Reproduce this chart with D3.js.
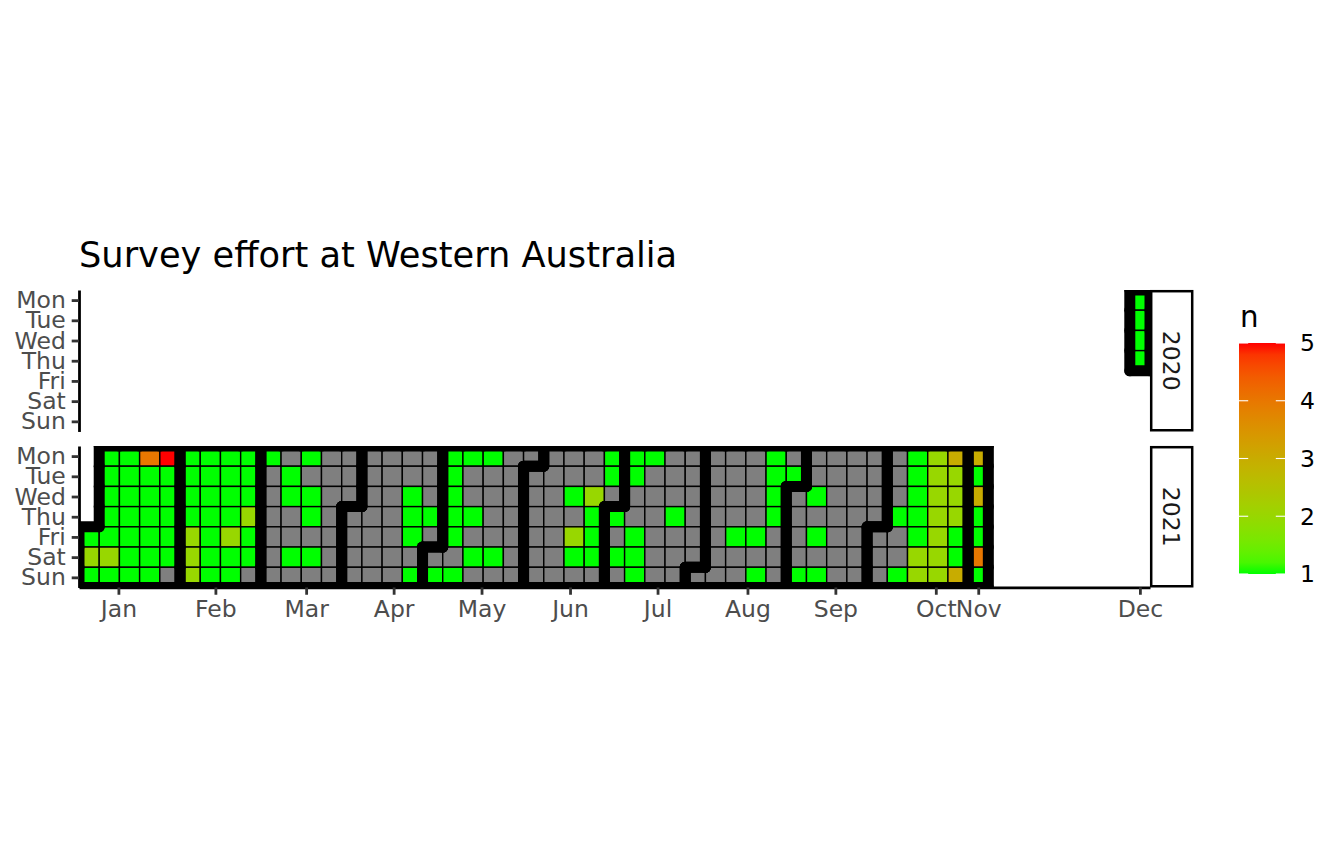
<!DOCTYPE html>
<html><head><meta charset="utf-8">
<script src="https://cdn.jsdelivr.net/npm/d3@7"></script>
<style>body{margin:0;background:#fff}svg text{font-family:"DejaVu Sans",sans-serif}</style>
</head><body><svg id="chart" width="1344" height="865"></svg>
<script>
const title = "Survey effort at Western Australia";
const dayLabels = ["Mon","Tue","Wed","Thu","Fri","Sat","Sun"];
const years = ["2020","2021"];
const N = null;
// daily survey counts (null = no survey) starting at each year's first date
const start2020 = "2020-12-28";
const n2020 = [1,1,1,1];
const start2021 = "2021-01-01";
const n2021 = [
  1,2,1,
  1,1,1,1,1,2,1,
  1,1,1,1,1,1,1,
  4,1,1,1,1,1,1,
  5,1,1,1,1,1,N,
  1,1,1,1,2,2,2,
  1,1,1,1,1,1,1,
  1,1,1,1,2,1,1,
  1,1,1,2,1,1,N,
  1,N,N,N,N,N,N,
  N,1,1,N,N,1,N,
  1,N,1,1,N,1,N,
  N,N,N,N,N,N,N,
  N,N,N,N,N,N,N,
  N,N,N,N,N,N,N,
  N,N,N,N,N,N,N,
  N,N,1,1,1,N,1,
  N,N,N,1,N,N,1,
  1,1,1,1,1,N,1,
  1,N,N,1,N,1,N,
  1,N,N,N,N,1,N,
  N,N,N,N,N,N,N,
  N,N,N,N,N,N,N,
  N,N,N,N,N,N,N,
  N,N,1,N,2,1,N,
  N,N,2,1,1,1,N,
  1,1,N,1,N,1,N,
  1,1,N,N,1,1,1,
  1,N,N,N,N,N,N,
  N,N,N,1,N,N,N,
  N,N,N,N,N,N,N,
  N,N,N,N,N,N,N,
  N,N,N,N,1,N,N,
  N,N,N,N,1,N,1,
  1,1,1,1,N,N,N,
  N,1,N,N,N,N,1,
  N,N,1,N,1,N,1,
  N,N,N,N,N,N,N,
  N,N,N,N,N,N,N,
  N,N,N,N,N,N,N,
  N,N,N,1,N,N,1,
  1,1,1,1,1,2,2,
  2,2,2,2,2,2,2,
  3,2,2,2,1,1,3,
  3,1,3,1,1,4,1
];
const monthLabels = ["Jan","Feb","Mar","Apr","May","Jun","Jul","Aug","Sep","Oct","Nov","Dec"];
const monthTicks = [1.45, 6.25, 10.74, 15.07, 19.42, 23.8, 28.13, 32.58, 36.93, 41.9, 44.0, 52.0];
const legendBreaks = [1,2,3,4,5];

const svg = d3.select("#chart");
const parse = d3.timeParse("%Y-%m-%d");
const fmtW = d3.timeFormat("%W");

function buildDays(startStr, vals, year) {
  const s = parse(startStr);
  return vals.map((v, i) => {
    const d = d3.timeDay.offset(s, i);
    return {year, date: d, value: v, week: +fmtW(d), dow: (d.getDay() + 6) % 7 + 1, month: d.getMonth()};
  });
}
const panels = [
  {year: "2020", days: buildDays(start2020, n2020, "2020"), top: 290},
  {year: "2021", days: buildDays(start2021, n2021, "2021"), top: 446}
];

const x = d3.scaleLinear().domain([-0.5, 52.5]).range([79, 1150]);
const cell = x(1) - x(0);
const panelH = cell * 7;
const color = d3.scaleLinear().domain([1, 5]).range(["#00ff00", "#ff0000"]).interpolate(d3.interpolateLab);
const naColor = "#7f7f7f";

// title
svg.append("text").attr("x", 79).attr("y", 267).attr("font-size", 35.2).attr("fill", "#000").text(title);

const defs = svg.append("defs");

panels.forEach((p, pi) => {
  const y = d3.scaleLinear().domain([0.5, 7.5]).range([p.top, p.top + panelH]);
  const clipId = "clip" + pi;
  defs.append("clipPath").attr("id", clipId).append("rect")
    .attr("x", x.range()[0]).attr("y", p.top).attr("width", x.range()[1] - x.range()[0]).attr("height", panelH);
  const g = svg.append("g").attr("clip-path", `url(#${clipId})`);

  g.selectAll("rect.tile").data(p.days).join("rect").attr("class", "tile")
    .attr("x", d => x(d.week - 0.5)).attr("y", d => y(d.dow - 0.5))
    .attr("width", cell).attr("height", cell)
    .attr("fill", d => d.value == null ? naColor : color(d.value))
    .attr("stroke", "#000").attr("stroke-width", 1.4);

  // month border edges
  const key = d => `${d.month}|${d.week}|${d.dow}`;
  const set = new Set(p.days.map(key));
  const edges = [];
  p.days.forEach(d => {
    const has = (w, dw) => set.has(`${d.month}|${w}|${dw}`);
    if (!has(d.week, d.dow - 1)) edges.push([d.week - 0.5, d.dow - 0.5, d.week + 0.5, d.dow - 0.5]);
    if (!has(d.week, d.dow + 1)) edges.push([d.week - 0.5, d.dow + 0.5, d.week + 0.5, d.dow + 0.5]);
    if (!has(d.week - 1, d.dow)) edges.push([d.week - 0.5, d.dow - 0.5, d.week - 0.5, d.dow + 0.5]);
    if (!has(d.week + 1, d.dow)) edges.push([d.week + 0.5, d.dow - 0.5, d.week + 0.5, d.dow + 0.5]);
  });
  g.selectAll("line.mb").data(edges).join("line").attr("class", "mb")
    .attr("x1", e => x(e[0])).attr("y1", e => y(e[1])).attr("x2", e => x(e[2])).attr("y2", e => y(e[3]))
    .attr("stroke", "#000").attr("stroke-width", 11).attr("stroke-linecap", "round");

  // y axis
  const ya = svg.append("g").attr("transform", `translate(${x.range()[0]},0)`)
    .call(d3.axisLeft(y).tickValues([1,2,3,4,5,6,7]).tickFormat(i => dayLabels[i - 1])
      .tickSize(7.3).tickSizeOuter(0).tickPadding(5.9));
  ya.select(".domain").attr("stroke", "#000").attr("stroke-width", 2.8);
  ya.selectAll(".tick line").attr("stroke", "#333").attr("stroke-width", 2.8);
  ya.selectAll(".tick text").attr("fill", "#4d4d4d").attr("font-size", 23.5).attr("font-family", "DejaVu Sans");

  // strip
  svg.append("rect").attr("x", 1151.2).attr("y", p.top + 1.2).attr("width", 41).attr("height", panelH - 2.4)
    .attr("fill", "#fff").attr("stroke", "#000").attr("stroke-width", 2.5);
  svg.append("text").attr("transform", `translate(${1171.7},${p.top + panelH / 2}) rotate(90)`)
    .attr("text-anchor", "middle").attr("dy", "0.35em").attr("font-size", 23.5).attr("fill", "#1a1a1a").text(p.year);

  if (pi === panels.length - 1) {
    const xa = svg.append("g").attr("transform", `translate(0,${p.top + panelH})`)
      .call(d3.axisBottom(x).tickValues(monthTicks).tickFormat((d, i) => monthLabels[i])
        .tickSize(7.3).tickSizeOuter(0).tickPadding(5.9));
    xa.select(".domain").attr("stroke", "#000").attr("stroke-width", 2.8);
    xa.selectAll(".tick line").attr("stroke", "#333").attr("stroke-width", 2.8);
    xa.selectAll(".tick text").attr("fill", "#4d4d4d").attr("font-size", 23.5).attr("font-family", "DejaVu Sans");
  }
});

// legend
const lx = 1239, lw = 46, ly0 = 343, ly1 = 574;
const ly = d3.scaleLinear().domain([1, 5]).range([ly1, ly0]);
const grad = defs.append("linearGradient").attr("id", "lg").attr("x1", 0).attr("y1", 1).attr("x2", 0).attr("y2", 0);
d3.range(0, 1.0001, 0.05).forEach(t => grad.append("stop").attr("offset", t).attr("stop-color", color(1 + 4 * t)));
svg.append("text").attr("x", 1240).attr("y", 327).attr("font-size", 29.3).attr("fill", "#000").text("n");
svg.append("rect").attr("x", lx).attr("y", ly0).attr("width", lw).attr("height", ly1 - ly0).attr("fill", "url(#lg)");
const lg = svg.append("g");
legendBreaks.forEach(v => {
  lg.append("line").attr("x1", lx).attr("x2", lx + 9.2).attr("y1", ly(v)).attr("y2", ly(v)).attr("stroke", "#fff").attr("stroke-width", 1.1);
  lg.append("line").attr("x1", lx + lw - 9.2).attr("x2", lx + lw).attr("y1", ly(v)).attr("y2", ly(v)).attr("stroke", "#fff").attr("stroke-width", 1.1);
  lg.append("text").attr("x", 1300).attr("y", ly(v)).attr("dy", "0.36em").attr("font-size", 23.5).attr("fill", "#000").text(v);
});
</script></body></html>
